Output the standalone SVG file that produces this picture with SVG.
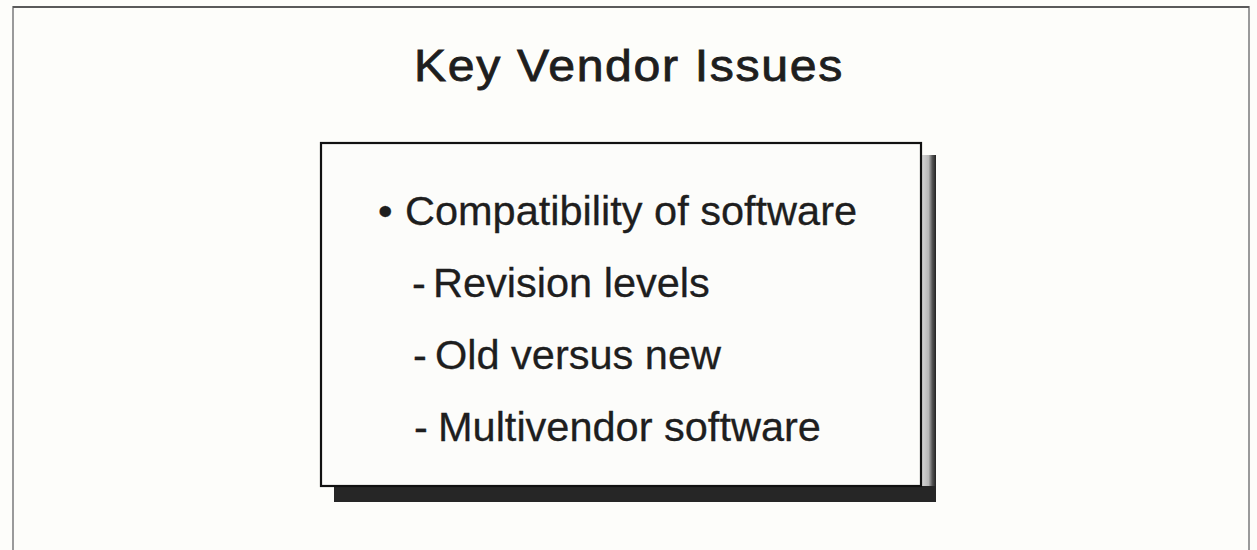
<svg xmlns="http://www.w3.org/2000/svg" width="1257" height="550" viewBox="0 0 1257 550">
  <style>
    .frame { fill: none; stroke: #9a9a9a; stroke-width: 2; }
    .title { font-family: "Liberation Sans", Arial, sans-serif; font-size: 44px; fill: #1e1e1e; stroke: #1e1e1e; stroke-width: 0.8; }
    .body { font-family: "Liberation Sans", Arial, sans-serif; font-size: 41.5px; fill: #1e1e1e; stroke: #1e1e1e; stroke-width: 0.3; }
    .box { fill: #fcfcfa; stroke: #111; stroke-width: 2.2; }
  </style>
  <defs>
    <linearGradient id="sideShade" x1="0" y1="0" x2="1" y2="0">
      <stop offset="0" stop-color="#d8d8d8"/>
      <stop offset="0.5" stop-color="#b8b8b8"/>
      <stop offset="0.75" stop-color="#555"/>
      <stop offset="1" stop-color="#222"/>
    </linearGradient>
  </defs>

  <!-- page background -->
  <rect x="0" y="0" width="1257" height="550" fill="#fdfdfa"/>

  <!-- page frame: left, top and right edges -->
  <g id="frame">
    <polyline class="frame" points="13,550 13,7 1249,7 1249,550"/>
    <line x1="13" y1="7" x2="1249" y2="7" stroke="#444" stroke-width="1.5"/>
  </g>

  <!-- heading -->
  <g id="title">
    <text class="title" x="414" y="81" textLength="430" lengthAdjust="spacingAndGlyphs" letter-spacing="1.5">Key Vendor Issues</text>
  </g>

  <!-- bullet list panel with drop shadow -->
  <g id="panel">
    <rect x="921" y="155" width="15" height="347" fill="url(#sideShade)"/>
    <rect x="334" y="486" width="602" height="16" fill="#262626"/>
    <rect class="box" x="321" y="143" width="600" height="343"/>
    <text class="body" x="378" y="225">•<tspan x="405">Compatibility of software</tspan></text>
    <text class="body" x="412" y="297">-<tspan x="433">Revision levels</tspan></text>
    <text class="body" x="413" y="369">-<tspan x="435">Old versus new</tspan></text>
    <text class="body" x="414" y="441">-<tspan x="438">Multivendor software</tspan></text>
  </g>
</svg>
